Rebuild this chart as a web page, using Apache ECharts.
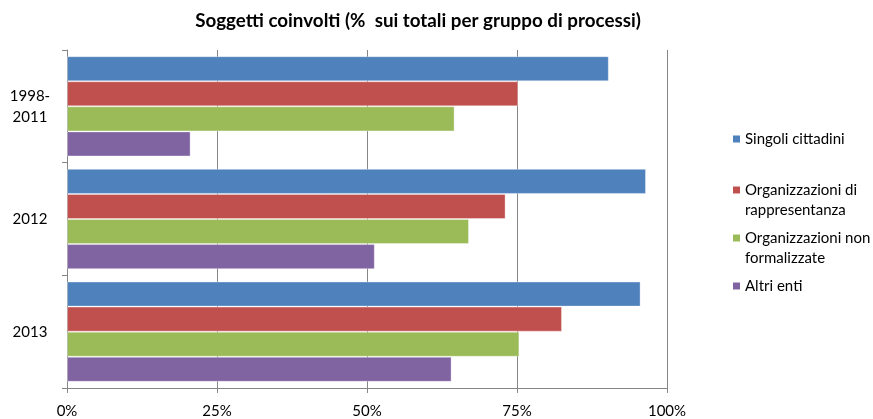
<!DOCTYPE html>
<html><head><meta charset="utf-8">
<script src="https://cdn.jsdelivr.net/npm/echarts@6/dist/echarts.min.js"></script>
<style>html,body{margin:0;padding:0;background:#fff}#c{width:873px;height:419px}</style>
</head><body><div id="c"></div>
<script>
const categories = ['1998-\n2011', '2012', '2013'];
const seriesNames = ['Singoli cittadini', 'Organizzazioni di rappresentanza', 'Organizzazioni non formalizzate', 'Altri enti'];
const singoliCittadini = [90.3, 96.5, 95.6];
const orgRappresentanza = [75.2, 73.1, 82.5];
const orgNonFormalizzate = [64.6, 67.0, 75.4];
const altriEnti = [20.6, 51.3, 64.1];
const xTicks = [0, 25, 50, 75, 100];
const colors = ['#4F81BD', '#C0504D', '#9BBB59', '#8064A2'];
const values = [singoliCittadini, orgRappresentanza, orgNonFormalizzate, altriEnti];
const legendLabels = ['Singoli cittadini', 'Organizzazioni di\nrappresentanza', 'Organizzazioni non\nformalizzate', 'Altri enti'];
const legendTops = [129, 180, 228, 276];
const FONT = 'Lato';
// square at top of a taller icon box so it lines up with the first text line
const tallIcon = 'path://M0,0L7,0L7,7L0,7Z M0,27L0,27';

const chart = echarts.init(document.getElementById('c'));
chart.setOption({
  animation: false,
  title: {
    text: 'Soggetti coinvolti (%  sui totali per gruppo di processi)',
    left: 418, top: 11, textAlign: 'center', padding: 0,
    textStyle: {fontFamily: FONT, fontWeight: 'bold', fontSize: 18.8, color: '#000'}
  },
  legend: seriesNames.map((n, i) => {
    const two = legendLabels[i].includes('\n');
    return {
      data: [{name: n, icon: two ? tallIcon : 'rect'}], left: 733, top: legendTops[i], orient: 'vertical',
      padding: 0, itemWidth: 7, itemHeight: two ? 27 : 7, itemGap: 0,
      itemStyle: {borderWidth: 0},
      formatter: () => legendLabels[i],
      textStyle: {fontFamily: FONT, fontSize: 15, color: '#000', lineHeight: 20}
    };
  }),
  grid: {left: 67, right: 206, top: 50, bottom: 31, containLabel: false},
  xAxis: {
    type: 'value', min: 0, max: 100, interval: 25,
    axisLine: {show: true, lineStyle: {color: '#868686'}},
    axisTick: {show: true, length: 5, lineStyle: {color: '#868686'}},
    splitLine: {show: true, lineStyle: {color: '#868686'}},
    axisLabel: {formatter: v => xTicks.includes(v) ? v + '%' : '', fontFamily: FONT, fontSize: 15, color: '#000', margin: 16}
  },
  yAxis: {
    type: 'category', data: categories, inverse: true,
    axisLine: {show: true, lineStyle: {color: '#868686'}},
    axisTick: {show: true, length: 5, lineStyle: {color: '#868686'}},
    axisLabel: {fontFamily: FONT, fontSize: 15, color: '#000', margin: 37, lineHeight: 21, align: 'center'}
  },
  series: seriesNames.map((n, i) => ({
    name: n, type: 'bar', data: values[i],
    itemStyle: {color: colors[i], borderColor: 'rgba(255,255,255,0.35)', borderWidth: 1},
    barGap: '0%', barCategoryGap: '11%'
  }))
});
</script></body></html>
